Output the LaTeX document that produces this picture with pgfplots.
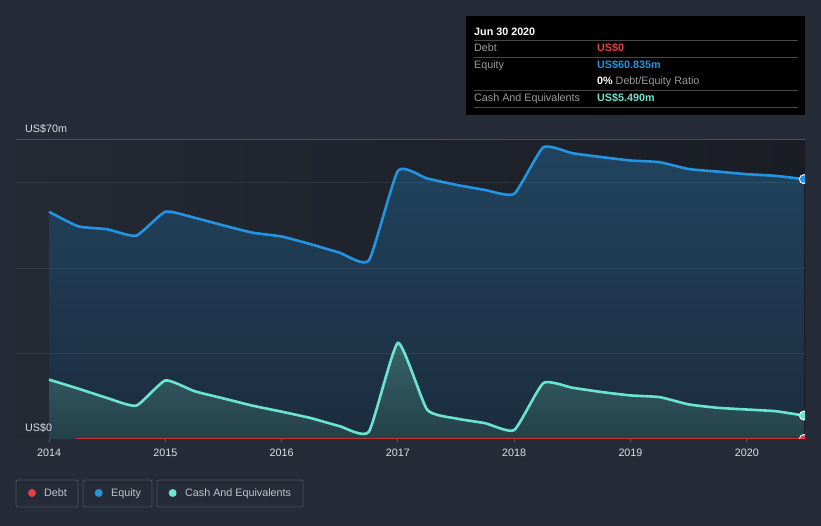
\documentclass[border=0pt]{standalone}
\usepackage{fontspec}
\setmainfont{Liberation Sans}
\usepackage{pgfplots}
\usepackage{pgfplotstable}
\pgfplotsset{compat=1.18}

\definecolor{bg}{RGB}{38,43,56}
\definecolor{plotL}{RGB}{36,41,52}
\definecolor{plotR}{RGB}{26,29,36}
\definecolor{eq}{RGB}{35,148,223}
\definecolor{cash}{RGB}{108,229,208}
\definecolor{debt}{RGB}{228,64,64}
\definecolor{eqtop}{RGB}{33,68,96}
\definecolor{eqbot}{RGB}{28,44,62}
\definecolor{cashtop}{RGB}{55,100,106}
\definecolor{cashbot}{RGB}{37,64,74}
\definecolor{txt}{RGB}{222,224,228}
\definecolor{lbl}{RGB}{155,155,155}
\definecolor{sep}{RGB}{72,72,72}
\definecolor{boxln}{RGB}{74,79,90}
\definecolor{axln}{RGB}{90,95,106}

% equity and cash, US$m
\pgfplotstableread{
year    equity cash
2014.00 53.2   13.9
2014.25 49.8   11.8
2014.50 49.1   9.6
2014.75 47.6   7.8
2015.00 53.2   13.7
2015.25 51.8   11.2
2015.50 50.0   9.5
2015.75 48.3   7.8
2016.00 47.4   6.4
2016.25 45.6   4.9
2016.50 43.6   3.0
2016.75 41.8   1.7
2017.00 62.8   22.5
2017.25 61.0   6.9
2017.50 59.5   4.8
2017.75 58.3   3.7
2018.00 57.4   2.1
2018.25 68.3   13.1
2018.50 66.9   12.0
2018.75 66.0   11.0
2019.00 65.2   10.2
2019.25 64.8   9.8
2019.50 63.2   8.1
2019.75 62.6   7.3
2020.00 62.0   6.9
2020.25 61.6   6.5
2020.49 60.835 5.49
}\bsdata

\pgfplotstableread{
year    debt
2014.23 0
2020.49 0
}\debtdata

\newcommand{\fs}{\fontsize{10.8}{13}\selectfont}

\begin{document}
\begin{tikzpicture}[x=1bp,y=1bp]
\fill[bg] (0,0) rectangle (821,526);

\begin{axis}[
    at={(16bp,87bp)}, anchor=south west,
    scale only axis, width=789bp, height=299bp,
    xmin=2013.716, xmax=2020.5, ymin=0, ymax=70,
    axis line style={draw=none},
    axis background/.style={left color=plotL, right color=plotR},
    axis on top,
    xtick={2014,...,2020},
    xticklabel style={font=\fs, text=txt, yshift=-3bp},
    /pgf/number format/1000 sep={},
    /pgf/number format/assume math mode=true,
    xtick pos=bottom, tick align=outside,
    xtick style={draw=axln, line width=0.8bp},
    major tick length=3.5bp,
    ytick={20,40,60}, yticklabels={}, ytick style={draw=none},
    ymajorgrids, grid style={white, opacity=0.07, line width=1bp},
    clip marker paths=true,
]
\addplot[draw=none, top color=eqtop, bottom color=eqbot, smooth, tension=0.3]
    table[x=year, y=equity] {\bsdata} \closedcycle;
\addplot[draw=none, top color=cashtop, bottom color=cashbot, smooth, tension=0.3]
    table[x=year, y=cash] {\bsdata} \closedcycle;

\draw[axln, line width=0.8bp] (axis cs:2013.716,0) -- (axis cs:2020.5,0);
\draw[boxln, line width=1bp] (axis cs:2013.716,70) -- (axis cs:2020.5,70);

\addplot[debt!85!black, line width=1.6bp] table[x=year, y=debt] {\debtdata};
\addplot[cash, line width=2.6bp, smooth, tension=0.3] table[x=year, y=cash] {\bsdata};
\addplot[eq, line width=2.6bp, smooth, tension=0.3] table[x=year, y=equity] {\bsdata};

\addplot[only marks, mark=*, mark size=4.5bp, mark options={fill=eq, draw=white, line width=0.9bp}]
    coordinates {(2020.49,60.835)};
\addplot[only marks, mark=*, mark size=4.5bp, mark options={fill=cash, draw=white, line width=0.9bp}]
    coordinates {(2020.49,5.49)};
\addplot[only marks, mark=*, mark size=4.5bp, mark options={fill=debt, draw=white, line width=0.9bp}]
    coordinates {(2020.49,0)};
\end{axis}

% y labels
\node[anchor=base west, text=txt, inner sep=0, font=\fs] at (25,393) {US\$70m};
\node[anchor=base west, text=txt, inner sep=0, font=\fs] at (25,94) {US\$0};

% tooltip
\fill[black] (466,411) rectangle (805,510);
\foreach \yy in {486,469,436,419} \draw[sep, line width=0.8bp] (474,\yy) -- (798,\yy);
\node[anchor=base west, inner sep=0, text=white, font=\fs\bfseries] at (474,490) {Jun 30 2020};
\node[anchor=base west, inner sep=0, text=lbl, font=\fs] at (474,474) {Debt};
\node[anchor=base west, inner sep=0, text=debt, font=\fs\bfseries] at (597,474) {US\$0};
\node[anchor=base west, inner sep=0, text=lbl, font=\fs] at (474,457) {Equity};
\node[anchor=base west, inner sep=0, text=eq, font=\fs\bfseries] at (597,457) {US\$60.835m};
\node[anchor=base west, inner sep=0, text=lbl, font=\fs] at (597,441) {\textcolor{white}{\bfseries 0\%} Debt/Equity Ratio};
\node[anchor=base west, inner sep=0, text=lbl, font=\fs] at (474,424) {Cash And Equivalents};
\node[anchor=base west, inner sep=0, text=cash, font=\fs\bfseries] at (597,424) {US\$5.490m};

% legend
\draw[boxln, line width=0.9bp, rounded corners=2bp] (16,19) rectangle (78,46);
\draw[boxln, line width=0.9bp, rounded corners=2bp] (83,19) rectangle (152,46);
\draw[boxln, line width=0.9bp, rounded corners=2bp] (157,19) rectangle (303,46);
\fill[debt] (32,33) circle (4bp);
\fill[eq] (98.7,33) circle (4bp);
\fill[cash] (172.7,33) circle (4bp);
\node[anchor=base west, inner sep=0, text=txt!85!bg, font=\fs] at (44,29) {Debt};
\node[anchor=base west, inner sep=0, text=txt!85!bg, font=\fs] at (111,29) {Equity};
\node[anchor=base west, inner sep=0, text=txt!85!bg, font=\fs] at (185,29) {Cash And Equivalents};
\end{tikzpicture}
\end{document}
